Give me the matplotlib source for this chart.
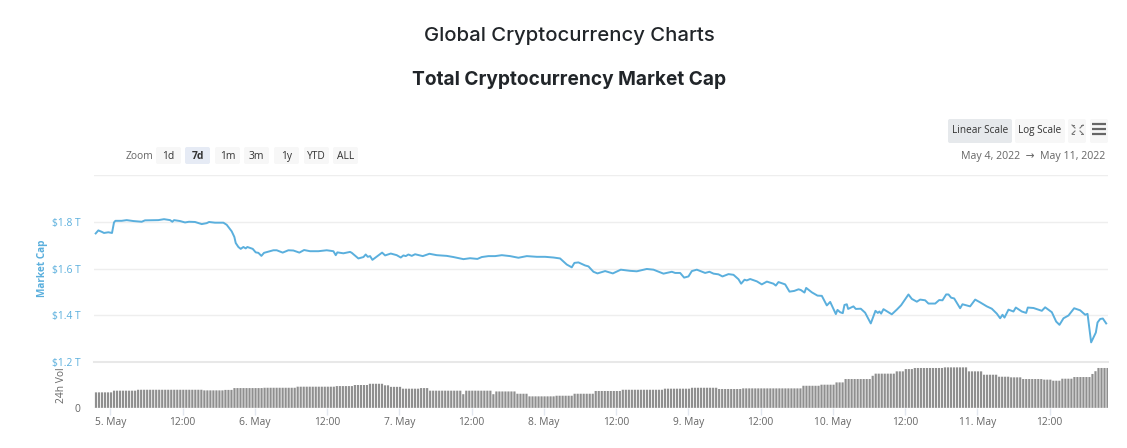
import matplotlib
matplotlib.use('Agg')
import matplotlib.pyplot as plt
from matplotlib.patches import FancyBboxPatch
import numpy as np

W, H = 1127, 448

# hours since 5 May 00:00, market cap in $T
hours = [-2.43, -1.99, -1.43, -1.05, -0.33, 0.28, 0.61, 0.84, 1.89, 2.72, 3.83, 5.21, 5.76, 7.98, 8.92, 9.92,
         10.3, 10.58, 11.58, 12.41, 13.07, 14.07, 15.18, 16.01, 16.4, 17.39, 18.78, 19.33, 20.16, 20.6, 20.83,
         21.27, 21.66, 22.1, 22.49, 22.76, 23.65, 24.15, 24.59, 25.09, 25.53, 27.08, 27.64, 28.63, 29.57, 30.4,
         31.4, 32.18, 33.17, 34.56, 35.94, 37.05, 37.44, 37.71, 38.71, 39.82,
         40.1, 41.2, 42.04, 42.42, 42.76, 43.14, 43.53, 44.36, 45.14, 45.64, 46.58, 47.57, 48.24, 48.68, 49.07,
         49.51, 50.06, 50.62, 51.89, 53.0, 54.22, 55.88, 56.99, 58.65, 59.75, 60.97, 61.69, 62.8, 63.91, 65.02,
         66.4, 67.78, 69.17, 70.83, 72.21, 73.6, 74.7, 75.81, 76.64, 77.08, 77.75, 78.86, 79.41, 80.24, 80.91,
         82.18, 83.46, 84.78, 86.33, 87.44, 89.1, 90.21, 91.87, 93.26, 93.81, 94.64, 95.3, 96.02, 96.58, 97.41,
         98.79, 99.51, 100.18, 101.01, 101.67, 102.67, 103.5, 104.33, 104.77, 105.33, 105.71, 106.27, 107.38,
         108.2, 109.04, 110.14, 110.53, 110.97, 112.08, 112.8, 113.58, 114.3, 114.68, 115.29, 115.57, 116.51,
         117.45, 118.17, 119.0, 119.56, 120.5, 120.77, 121.21, 121.65,
         121.93, 122.32, 122.54, 123.42, 123.81, 124.64, 125.36, 126.3, 127.08, 127.47, 127.74, 128.02, 128.41,
         129.24, 129.79, 130.62, 131.34, 132.56, 133.11, 133.95, 134.5, 135.33, 135.88, 137.0, 137.66, 138.21,
         138.82, 139.21, 139.65, 140.15, 141.14, 141.53, 142.8, 143.64, 144.47, 145.57, 146.4, 147.23, 147.79,
         148.18, 148.51, 149.17, 150.0, 150.39, 151.39, 152.11, 152.38, 153.33, 154.71, 155.26, 156.37, 157.09,
         157.64, 158.31, 159.14, 160.08, 161.08, 161.91, 162.3, 162.9, 163.68, 163.96, 164.4, 164.84, 165.4]
market_cap = [1.750, 1.763, 1.757, 1.752, 1.755, 1.752, 1.797, 1.804, 1.804, 1.807, 1.803, 1.800, 1.806, 1.807, 1.811, 1.807,
              1.800, 1.807, 1.803, 1.797, 1.800, 1.799, 1.790, 1.794, 1.799, 1.796, 1.796, 1.787, 1.759, 1.735, 1.709,
              1.692, 1.684, 1.692, 1.686, 1.692, 1.684, 1.669, 1.667, 1.654, 1.667, 1.678, 1.678, 1.668, 1.678, 1.677,
              1.668, 1.679, 1.674, 1.674, 1.678, 1.674, 1.657, 1.669, 1.665, 1.671,
              1.667, 1.643, 1.649, 1.660, 1.650, 1.653, 1.637, 1.653, 1.668, 1.656, 1.664, 1.657, 1.647, 1.656, 1.653,
              1.660, 1.654, 1.661, 1.653, 1.663, 1.657, 1.654, 1.649, 1.640, 1.644, 1.641, 1.649, 1.653, 1.653, 1.657,
              1.653, 1.646, 1.653, 1.650, 1.650, 1.647, 1.643, 1.617, 1.605, 1.624, 1.626, 1.613, 1.609, 1.586, 1.579,
              1.589, 1.579, 1.595, 1.590, 1.588, 1.598, 1.595, 1.578, 1.586, 1.581, 1.581, 1.561, 1.566, 1.589, 1.595,
              1.581, 1.586, 1.578, 1.575, 1.566, 1.576, 1.573, 1.554, 1.535, 1.552, 1.549, 1.555, 1.545,
              1.532, 1.544, 1.535, 1.527, 1.542, 1.532, 1.501, 1.504, 1.511, 1.508, 1.497, 1.517, 1.498,
              1.484, 1.483, 1.442, 1.457, 1.405, 1.423, 1.413, 1.409,
              1.444, 1.447, 1.427, 1.438, 1.427, 1.428, 1.411, 1.365, 1.419, 1.410, 1.416, 1.407, 1.426,
              1.413, 1.404, 1.424, 1.443, 1.489, 1.470, 1.458, 1.467, 1.464, 1.450, 1.450, 1.465, 1.464,
              1.489, 1.489, 1.475, 1.472, 1.430, 1.447, 1.438, 1.467, 1.455, 1.438, 1.428, 1.407, 1.387,
              1.402, 1.390, 1.424, 1.416, 1.433, 1.416, 1.410, 1.433, 1.431, 1.419, 1.434, 1.413, 1.373,
              1.359, 1.387, 1.399, 1.430, 1.421, 1.402, 1.406, 1.284, 1.326, 1.369, 1.384, 1.386, 1.365]

# 24h volume in $B, read as runs of half hourly bars
vol_levels = [102, 113, 119, 115, 118, 130, 132, 139, 143, 150, 158, 148, 138, 126, 130, 113, 90, 113, 90, 108, 93,
              76, 80, 93, 111, 119, 126, 132, 124, 128, 145, 152, 167, 189, 210, 224, 239, 254, 261, 265, 239, 217,
              204, 200, 189, 185, 178, 191, 202, 222, 240, 261]
vol_counts = [6, 8, 22, 7, 3, 10, 11, 13, 6, 5, 5, 2, 4, 6, 3, 11, 1, 9, 1, 7, 4,
              9, 6, 7, 9, 14, 9, 9, 8, 20, 6, 5, 3, 9, 1, 7, 3, 3, 10, 8, 5, 5,
              4, 4, 7, 3, 3, 4, 6, 1, 1, 4]
vol_start = -2.38

tick_hours = [0, 12, 24, 36, 48, 60, 72, 84, 96, 108, 120, 132, 144, 156]
tick_labels = ['5. May', '12:00', '6. May', '12:00', '7. May', '12:00', '8. May', '12:00', '9. May', '12:00',
               '10. May', '12:00', '11. May', '12:00']
cap_ticks = [1.2, 1.4, 1.6, 1.8, 2.0]
cap_labels = ['$1.2 T', '$1.4 T', '$1.6 T', '$1.8 T', '']

zoom_buttons = ['1d', '7d', '1m', '3m', '1y', 'YTD', 'ALL']
zoom_left = [156, 185, 215, 244, 274, 304, 333]

plt.rcParams['font.family'] = ['Open Sans', 'DejaVu Sans']

BLUE = '#5aafdd'
GRID = '#eeeeee'
GREY = '#666666'


def box(l, t, r, b):
    return [l / W, 1 - b / H, (r - l) / W, (b - t) / H]


fig = plt.figure(figsize=(W / 100, H / 100), dpi=100)

# Price panel
ax = fig.add_axes(box(94, 175, 1108, 362))
ax.plot(hours, market_cap, color=BLUE, lw=1.4, solid_joinstyle='round')
ax.set_xlim(-2.71, 165.7)
ax.set_ylim(1.2, 2.0)
ax.set_yticks(cap_ticks)
ax.set_yticklabels(cap_labels, color=BLUE, fontsize=7.4)
ax.tick_params(axis='y', length=0, pad=9.5)
ax.tick_params(axis='x', length=0, labelbottom=False)
ax.grid(axis='y', color=GRID, lw=1)
ax.set_axisbelow(True)
for s in ax.spines.values():
    s.set_visible(False)

# Volume panel
ax2 = fig.add_axes(box(94, 362, 1108, 408))
vol = np.repeat(vol_levels, vol_counts)
bars = ax2.bar(vol_start + np.arange(len(vol)) * 0.5, vol, width=0.36, color='#8f8f8f', linewidth=0)
for b in bars:
    b.set_snap(False)
ax2.set_xlim(-2.71, 165.7)
ax2.set_ylim(0, 300)
ax2.set_yticks([0])
ax2.set_yticklabels(['0'], color=GREY, fontsize=7.4)
ax2.set_xticks(tick_hours)
ax2.set_xticklabels(tick_labels, color=GREY, fontsize=7.4)
ax2.tick_params(axis='y', length=0, pad=10)
ax2.tick_params(axis='x', length=5, width=1, color='#e3e8f0', pad=1.5)
for s in ['left', 'right', 'bottom']:
    ax2.spines[s].set_visible(False)
ax2.spines['top'].set_color('#e8e8e8')
ax2.spines['top'].set_linewidth(1.5)
ax2.axhline(0, color='#e6e6e6', lw=1)

# Page furniture in pixel coordinates
ov = fig.add_axes([0, 0, 1, 1], zorder=5)
ov.set_xlim(0, W)
ov.set_ylim(H, 0)
ov.axis('off')
ov.patch.set_alpha(0)


def button(l, t, r, b, fc):
    ov.add_patch(FancyBboxPatch((l + 2, t + 2), r - l - 4, b - t - 4, boxstyle='round,pad=2',
                                fc=fc, ec='none'))


ov.text(569, 36, 'Global Cryptocurrency Charts', family=['Inter', 'DejaVu Sans'], fontsize=14.6,
        color='#212529', ha='center', va='center', fontweight='medium')
ov.text(569, 80, 'Total Cryptocurrency Market Cap', family=['Inter', 'DejaVu Sans'], fontsize=13.75,
        color='#212529', ha='center', va='center', fontweight='bold')

ov.text(139, 156.5, 'Zoom', fontsize=7.4, color=GREY, ha='center', va='center')
for name, left in zip(zoom_buttons, zoom_left):
    active = name == '7d'
    button(left, 147, left + 25, 164, '#e6ebf5' if active else '#f7f7f7')
    ov.text(left + 12.5, 156.5, name, fontsize=7.4, color='#333333', ha='center', va='center',
            fontweight='bold' if active else 'normal')

button(948, 119, 1012, 143, '#e6e9ec')
button(1015, 119, 1065, 143, '#f7f7f7')
button(1068, 119, 1086, 143, '#f7f7f7')
button(1090, 119, 1108, 143, '#f7f7f7')
ov.text(980, 130.5, 'Linear Scale', fontsize=7.2, color='#333333', ha='center', va='center')
ov.text(1040, 130.5, 'Log Scale', fontsize=7.2, color='#333333', ha='center', va='center')
ov.text(1105, 156.5, 'May 4, 2022  \u2192  May 11, 2022', fontsize=7.7, color=GREY, ha='right', va='center')

# Fullscreen icon, four small diagonal ticks
for x0, x1, y0, y1 in [(1072, 1075, 125, 128), (1083, 1080, 125, 128), (1072, 1075, 134, 131), (1083, 1080, 134, 131)]:
    ov.plot([x0, x1], [y0, y1], color='#777777', lw=0.8)
    ov.plot([x0, x0 + (x1 - x0) * 0.6], [y0, y0], color='#777777', lw=0.7)

# Menu icon
for y in [124, 129, 134]:
    ov.plot([1092, 1106], [y, y], color='#666666', lw=1.6, solid_capstyle='butt')

ov.text(43, 268, 'Market Cap', rotation=90, fontsize=7.2, color=BLUE, ha='center', va='center', fontweight='bold')
ov.text(62, 385, '24h Vol', rotation=90, fontsize=7.4, color=GREY, ha='center', va='center')

fig.savefig('out.png', dpi=100, facecolor='white')
